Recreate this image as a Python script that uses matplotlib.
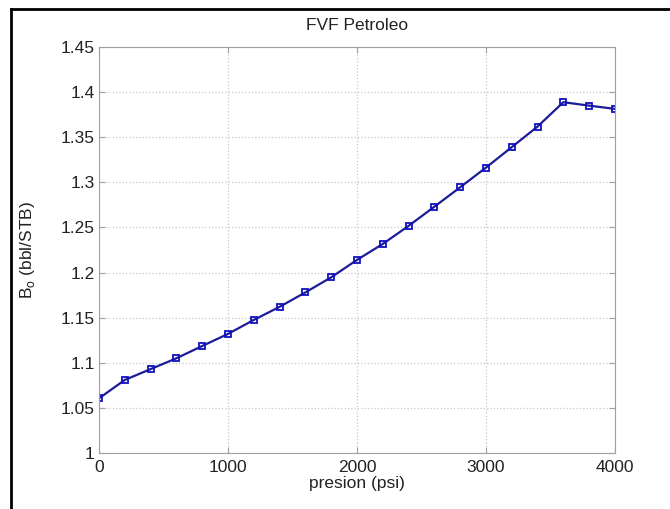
import matplotlib
matplotlib.use("Agg")
from matplotlib import pyplot as plt
from matplotlib.lines import Line2D

presion = [0, 200, 400, 600, 800, 1000, 1200, 1400, 1600, 1800, 2000,
           2200, 2400, 2600, 2800, 3000, 3200, 3400, 3600, 3800, 4000]
bo = [1.0606, 1.081, 1.093, 1.105, 1.1186, 1.132, 1.1475, 1.162, 1.178, 1.1947, 1.214,
      1.2317, 1.2517, 1.273, 1.2945, 1.3163, 1.339, 1.3618, 1.3888, 1.385, 1.3814]
xticks = [0, 1000, 2000, 3000, 4000]
yticks = [1, 1.05, 1.1, 1.15, 1.2, 1.25, 1.3, 1.35, 1.4, 1.45]

plt.rcParams['font.family'] = ['Liberation Sans', 'DejaVu Sans']

fig = plt.figure(figsize=(6.7, 5.09), dpi=100)
ax = fig.add_axes([0.1478, 0.110, 0.770, 0.7977])

ax.plot(presion, bo, color='#1c1c9a', linewidth=1.6, marker='s', markersize=4.5,
        markerfacecolor='none', markeredgecolor='#1010c0', markeredgewidth=1.3)

ax.set_xlim(0, 4000)
ax.set_ylim(1, 1.45)
ax.set_xticks(xticks)
ax.set_yticks(yticks)
ax.set_yticklabels(['1', '1.05', '1.1', '1.15', '1.2', '1.25', '1.3', '1.35', '1.4', '1.45'])
ax.grid(True, linestyle=':', color='#c8c8c8', linewidth=0.9)
for s in ax.spines.values():
    s.set_color('#a0a0a0')
ax.tick_params(direction='in', length=4, color='#a0a0a0', labelsize=12.5,
               labelcolor='#222222', top=True, right=True, pad=3)
ax.tick_params(axis='x', pad=5)

ax.set_title('FVF Petroleo', fontsize=12.5, color='#222222', pad=12)
ax.set_xlabel('presion (psi)', fontsize=12.5, color='#222222', labelpad=1)
ax.set_ylabel(r'B$_\mathregular{o}$ (bbl/STB)', fontsize=12.5, color='#222222', labelpad=17)

# marco negro (solo izquierda y arriba)
fig.add_artist(Line2D([11 / 670, 11 / 670], [0, 1 - 9 / 509], color='black', linewidth=2))
fig.add_artist(Line2D([11 / 670, 1], [1 - 9 / 509, 1 - 9 / 509], color='black', linewidth=2))

fig.savefig('out.png', dpi=100)
